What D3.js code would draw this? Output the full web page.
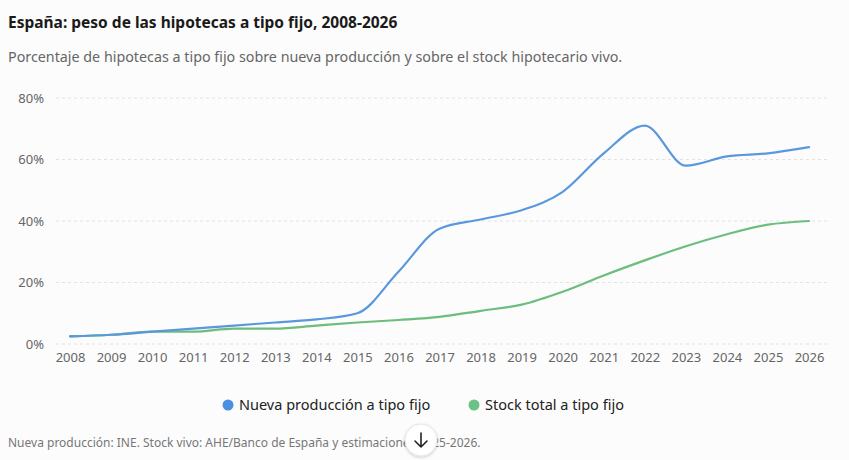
<!DOCTYPE html>
<html>
<head>
<meta charset="utf-8">
<script src="https://cdn.jsdelivr.net/npm/d3@7"></script>
<style>
  body { margin: 0; background: #fcfcfc; font-family: "Noto Sans", "Open Sans", sans-serif; }
  svg { display: block; }
</style>
</head>
<body>
<div id="chart"></div>
<script>
// years on the x axis
const years = [2008, 2009, 2010, 2011, 2012, 2013, 2014, 2015, 2016, 2017,
               2018, 2019, 2020, 2021, 2022, 2023, 2024, 2025, 2026];
// % fixed-rate on new mortgages
const nuevaProduccion = [2.5, 3, 4, 5, 6, 7, 8, 10, 23.5, 37.5,
                         40.5, 43.5, 49.5, 62, 71, 58, 61, 62, 64];
// % fixed-rate on outstanding stock
const stockTotal = [2.5, 3, 4, 4, 5, 5, 6, 7, 7.8, 8.8,
                    10.8, 12.8, 17, 22.3, 27.2, 31.8, 35.7, 38.8, 40];
const yTicks = [0, 20, 40, 60, 80];

const series = [
  { name: 'Nueva producción a tipo fijo', values: nuevaProduccion, color: '#5a98de', dot: '#4a90e2' },
  { name: 'Stock total a tipo fijo', values: stockTotal, color: '#6cbd7e', dot: '#6cc184' }
];

const W = 849, H = 460;

const svg = d3.select('#chart').append('svg')
    .attr('width', W)
    .attr('height', H);

// title + subtitle
svg.append('text')
    .attr('x', 8).attr('y', 28)
    .attr('font-size', 15.5).attr('font-weight', 700)
    .attr('fill', '#1a1a1a')
    .text('España: peso de las hipotecas a tipo fijo, 2008-2026');

svg.append('text')
    .attr('x', 8).attr('y', 62)
    .attr('font-size', 14.3)
    .attr('fill', '#666')
    .text('Porcentaje de hipotecas a tipo fijo sobre nueva producción y sobre el stock hipotecario vivo.');

const x = d3.scaleLinear()
    .domain([2008, 2026])
    .range([70, 809]);

const y = d3.scaleLinear()
    .domain([0, 80])
    .range([344, 98]);

// gridlines
svg.append('g')
    .selectAll('line')
    .data(yTicks)
  .join('line')
    .attr('x1', 56).attr('x2', 828)
    .attr('y1', d => y(d)).attr('y2', d => y(d))
    .attr('stroke', '#e2e2e2')
    .attr('stroke-dasharray', '3,3');

// y axis labels
const yAxis = svg.append('g')
    .attr('transform', 'translate(47,0)')
    .call(d3.axisLeft(y).tickValues(yTicks).tickSize(0).tickFormat(d => d + '%'));
yAxis.select('.domain').remove();
yAxis.selectAll('text')
    .attr('font-size', 13).attr('fill', '#666')
    .attr('font-family', '"Noto Sans", sans-serif');

// x axis labels
const xAxis = svg.append('g')
    .attr('transform', 'translate(0,350)')
    .call(d3.axisBottom(x).tickValues(years).tickSize(0).tickFormat(d3.format('d')));
xAxis.select('.domain').remove();
xAxis.selectAll('text')
    .attr('font-size', 13).attr('fill', '#666')
    .attr('font-family', '"Noto Sans", sans-serif');

// lines
const line = d3.line()
    .x((d, i) => x(years[i]))
    .y(d => y(d))
    .curve(d3.curveMonotoneX);

svg.append('g')
    .selectAll('path')
    .data(series.slice().reverse())
  .join('path')
    .attr('d', d => line(d.values))
    .attr('fill', 'none')
    .attr('stroke', d => d.color)
    .attr('stroke-width', 2.2)
    .attr('stroke-linecap', 'round');

// legend
const legendX = [228, 474];
const legend = svg.append('g')
    .selectAll('g')
    .data(series)
  .join('g')
    .attr('transform', (d, i) => `translate(${legendX[i]},405)`);
legend.append('circle')
    .attr('r', 5.5)
    .attr('fill', d => d.dot);
legend.append('text')
    .attr('x', 11).attr('dy', '0.35em')
    .attr('font-size', 14.5).attr('fill', '#222')
    .text(d => d.name);

// source note
svg.append('text')
    .attr('x', 8).attr('y', 447)
    .attr('font-size', 12).attr('fill', '#777')
    .text('Nueva producción: INE. Stock vivo: AHE/Banco de España y estimaciones 2025-2026.');

// scroll button overlay
const btn = svg.append('g').attr('transform', 'translate(421,440)');
const defs = svg.append('defs');
const f = defs.append('filter').attr('id', 'sh').attr('x', '-50%').attr('y', '-50%').attr('width', '200%').attr('height', '200%');
f.append('feDropShadow').attr('dx', 0).attr('dy', 1).attr('stdDeviation', 1.5).attr('flood-color', '#000').attr('flood-opacity', 0.2);
btn.append('circle').attr('r', 16).attr('fill', '#fff').attr('stroke', '#e6e6e6').attr('filter', 'url(#sh)');
btn.append('path')
    .attr('d', 'M0,-7 L0,7 M-6,1 L0,7 L6,1')
    .attr('fill', 'none').attr('stroke', '#222').attr('stroke-width', 1.6)
    .attr('stroke-linecap', 'round').attr('stroke-linejoin', 'round');
</script>
</body>
</html>
